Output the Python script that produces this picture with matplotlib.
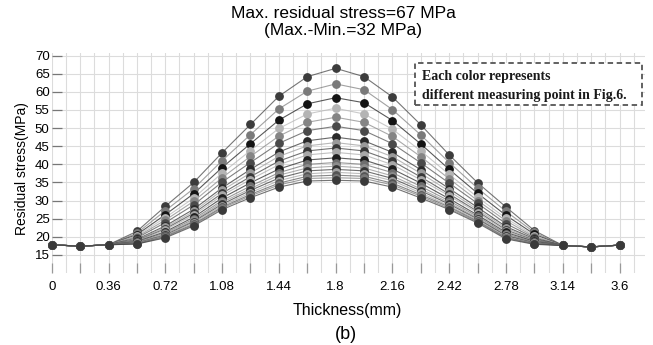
import matplotlib
matplotlib.use('Agg')
import matplotlib.pyplot as plt
from matplotlib.patches import Rectangle

plt.rcParams['font.family'] = ['Liberation Sans', 'DejaVu Sans']

# 测点位置（等间距，每 0.18 mm 一个点）
n_points = 21
tick_labels = ['0', '0.36', '0.72', '1.08', '1.44', '1.8',
               '2.16', '2.42', '2.78', '3.14', '3.6']

# 各测点的残余应力 (MPa)，从最高到最低
stress_01 = [17.8, 17.4, 17.8, 21.5, 28.4, 35.0, 43.2, 51.0, 58.8, 64.2, 66.5, 64.2, 58.6, 50.9, 42.6, 34.9, 28.2, 21.7, 17.6, 17.2, 17.7]
stress_02 = [17.8, 17.4, 17.8, 21.0, 27.2, 33.3, 41.0, 48.2, 55.3, 60.2, 62.2, 60.6, 55.1, 48.1, 40.5, 33.4, 27.0, 21.2, 17.6, 17.2, 17.7]
stress_03 = [17.8, 17.4, 17.8, 20.6, 26.1, 31.9, 39.1, 45.7, 52.2, 56.7, 58.4, 57.0, 52.1, 45.6, 38.6, 32.0, 25.9, 20.7, 17.6, 17.2, 17.7]
stress_04 = [17.8, 17.4, 17.8, 20.3, 25.3, 30.7, 37.6, 43.8, 49.9, 53.9, 55.5, 53.9, 49.7, 43.7, 37.2, 30.9, 25.1, 20.3, 17.6, 17.2, 17.7]
stress_05 = [17.8, 17.4, 17.8, 20.0, 24.6, 29.8, 36.3, 42.2, 47.8, 51.6, 53.0, 51.6, 47.7, 42.1, 36.0, 30.0, 24.4, 20.0, 17.6, 17.2, 17.7]
stress_06 = [17.8, 17.4, 17.8, 19.7, 23.9, 28.8, 35.1, 40.5, 45.8, 49.3, 50.5, 49.3, 45.7, 40.4, 34.8, 29.2, 23.6, 19.7, 17.6, 17.2, 17.7]
stress_07 = [17.8, 17.4, 17.8, 19.3, 23.0, 27.6, 33.5, 38.6, 43.4, 46.5, 47.5, 46.5, 43.3, 38.5, 33.3, 28.1, 22.8, 19.4, 17.6, 17.2, 17.7]
stress_08 = [17.8, 17.4, 17.8, 19.2, 22.6, 27.0, 32.8, 37.6, 42.2, 45.1, 46.0, 45.1, 42.1, 37.5, 32.6, 27.5, 22.4, 19.2, 17.6, 17.2, 17.7]
stress_09 = [17.8, 17.4, 17.8, 19.0, 22.2, 26.5, 32.0, 36.6, 40.9, 43.7, 44.5, 43.7, 40.9, 36.5, 31.8, 27.0, 21.9, 19.0, 17.6, 17.2, 17.7]
stress_10 = [17.8, 17.4, 17.8, 18.9, 21.9, 26.0, 31.4, 35.8, 39.9, 42.6, 43.3, 42.6, 39.9, 35.7, 31.3, 26.6, 21.6, 18.8, 17.6, 17.2, 17.7]
stress_11 = [17.8, 17.4, 17.8, 18.7, 21.4, 25.4, 30.7, 34.9, 38.7, 41.2, 41.8, 41.2, 38.7, 34.8, 30.5, 26.0, 21.2, 18.7, 17.6, 17.2, 17.7]
stress_12 = [17.8, 17.4, 17.8, 18.6, 21.1, 24.9, 30.0, 34.0, 37.7, 40.0, 40.5, 40.0, 37.7, 33.9, 29.9, 25.6, 20.8, 18.5, 17.6, 17.2, 17.7]
stress_13 = [17.8, 17.4, 17.8, 18.4, 20.8, 24.5, 29.5, 33.3, 37.0, 39.0, 39.5, 39.0, 36.8, 33.2, 29.4, 25.2, 20.5, 18.4, 17.6, 17.2, 17.7]
stress_14 = [17.8, 17.4, 17.8, 18.3, 20.5, 24.2, 29.0, 32.8, 36.2, 38.2, 38.6, 38.2, 36.1, 32.7, 29.0, 24.9, 20.3, 18.3, 17.6, 17.2, 17.7]
stress_15 = [17.8, 17.4, 17.8, 18.2, 20.3, 23.9, 28.6, 32.2, 35.5, 37.4, 37.8, 37.4, 35.5, 32.1, 28.5, 24.6, 20.0, 18.2, 17.6, 17.2, 17.7]
stress_16 = [17.8, 17.4, 17.8, 18.1, 20.1, 23.5, 28.2, 31.7, 34.8, 36.7, 37.0, 36.7, 34.8, 31.6, 28.2, 24.3, 19.8, 18.1, 17.6, 17.2, 17.7]
stress_17 = [17.8, 17.4, 17.8, 18.0, 19.9, 23.3, 27.9, 31.3, 34.3, 36.1, 36.3, 36.1, 34.3, 31.2, 27.8, 24.1, 19.6, 18.0, 17.6, 17.2, 17.7]
stress_18 = [17.8, 17.4, 17.8, 18.0, 19.7, 23.0, 27.5, 30.8, 33.7, 35.4, 35.6, 35.4, 33.7, 30.7, 27.5, 23.8, 19.4, 17.9, 17.6, 17.2, 17.7]

series = [stress_01, stress_02, stress_03, stress_04, stress_05, stress_06,
          stress_07, stress_08, stress_09, stress_10, stress_11, stress_12,
          stress_13, stress_14, stress_15, stress_16, stress_17, stress_18]

# 灰度配色（每条曲线一个测点）
grays = ['#3c3c3c', '#7a7a7a', '#141414', '#b4b4b4', '#858585', '#4a4a4a',
         '#2a2a2a', '#9a9a9a', '#383838', '#a8a8a8', '#1e1e1e', '#6e6e6e',
         '#8c8c8c', '#333333', '#a0a0a0', '#555555', '#777777', '#3a3a3a']

x = list(range(n_points))

fig = plt.figure(figsize=(6.53, 3.45), dpi=100)
ax = fig.add_axes([0.0792, 0.2087, 0.9088, 0.6373])

for ys, c in zip(series, grays):
    ax.plot(x, ys, '-', color=c, lw=0.8, alpha=0.7, zorder=2)
    ax.plot(x, ys, 'o', color=c, ms=5.3, mec=c, zorder=3, clip_on=False)

ax.set_xlim(0, 20.9)
ax.set_ylim(10, 70.7)
ax.set_yticks(range(15, 71, 5))
# 每个测点一个刻度，隔一个标注
ax.set_xticks(x)
ax.set_xticklabels([tick_labels[i // 2] if i % 2 == 0 else '' for i in x])
ax.set_xticks([i + 0.5 for i in x], minor=True)

for s in ax.spines.values():
    s.set_visible(False)

ax.grid(True, which='major', axis='y', color='#dcdcdc', lw=0.8)
ax.grid(True, which='both', axis='x', color='#dcdcdc', lw=0.8)
ax.set_axisbelow(True)

ax.tick_params(axis='y', direction='in', length=7, width=0.9, color='#777777',
               labelsize=9.5, pad=1.5)
ax.tick_params(axis='x', which='major', direction='in', length=7, width=0.9,
               color='#999999', labelsize=9.5, pad=6)
ax.tick_params(axis='x', which='minor', length=0)

fig.text(0.526, 0.962, 'Max. residual stress=67 MPa', ha='center', va='center', fontsize=12.5)
fig.text(0.526, 0.912, '(Max.-Min.=32 MPa)', ha='center', va='center', fontsize=12.5)
fig.text(0.532, 0.100, 'Thickness(mm)', ha='center', va='center', fontsize=11.5)
fig.text(0.53, 0.03, '(b)', ha='center', va='center', fontsize=13)
fig.text(0.034, 0.51, 'Residual stress(MPa)', ha='center', va='center',
         rotation=90, fontsize=10)

# 说明框
box = Rectangle((415 / 653, 1 - 105 / 345), 227 / 653, 42 / 345,
                transform=fig.transFigure, fill=True, facecolor='white',
                edgecolor='#555555', lw=1.3, ls=(0, (3, 2)), zorder=5)
fig.patches.append(box)
fig.text(422 / 653, 1 - 76.5 / 345, 'Each color represents', ha='left', va='center',
         fontsize=10, fontweight='bold', family='Liberation Serif', color='#1a1a1a',
         zorder=6)
fig.text(422 / 653, 1 - 95 / 345, 'different measuring point in Fig.6.', ha='left',
         va='center', fontsize=10, fontweight='bold', family='Liberation Serif',
         color='#1a1a1a', zorder=6)

fig.savefig('out.png', dpi=100)
